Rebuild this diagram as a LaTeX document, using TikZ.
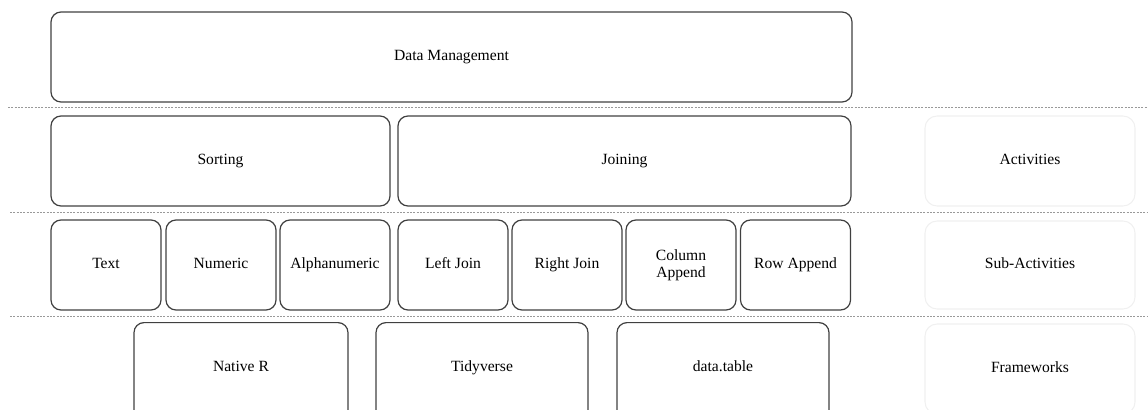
\documentclass[tikz,border=0pt]{standalone}
\usepackage{fontspec}
\setmainfont{Liberation Serif}
\begin{document}
\begin{tikzpicture}[x=0.75pt,y=-0.75pt,
  box/.style={draw=black!75,line width=0.9pt,rounded corners=7.5pt,inner sep=0pt,font=\fontsize{11.7}{12.5}\selectfont,align=center},
  one/.style={text height=0.68em,text depth=0.22em},
  side/.style={draw=black!6,line width=0.8pt,rounded corners=9pt,inner sep=0pt,font=\fontsize{11.7}{12.5}\selectfont,align=center,one},
  lab/.style={inner sep=0pt,font=\fontsize{11.7}{12.5}\selectfont,one},
  sep/.style={draw=black!40,line width=0.6pt,dash pattern=on 1.5pt off 1pt}]
\useasboundingbox (0,0) rectangle (1148,410);
\clip (0,0) rectangle (1148,410);
% rows
\node[box,one,minimum width=801*0.75pt,minimum height=90*0.75pt] (dm) at (451.5,57) {Data Management};
\node[box,one,minimum width=339*0.75pt,minimum height=90*0.75pt] (sort) at (220.5,161) {Sorting};
\node[box,one,minimum width=453*0.75pt,minimum height=90*0.75pt] (join) at (624.5,161) {Joining};
\node[side,minimum width=210*0.75pt,minimum height=90*0.75pt] (act) at (1030,161) {Activities};
% sub-activities
\foreach \n/\cx/\t in {text/106/Text, num/221/Numeric, alnum/335/Alphanumeric, lj/453/Left Join, rj/567/Right Join, ra/795.5/Row Append}
  \node[box,one,minimum width=110*0.75pt,minimum height=90*0.75pt] (\n) at (\cx,265) {\t};
\node[box,minimum width=110*0.75pt,minimum height=90*0.75pt] (ca) at (681,265) {Column\\Append};
\node[side,minimum width=210*0.75pt,minimum height=88*0.75pt] (sub) at (1030,265) {Sub-Activities};
% frameworks
\node[box,anchor=north,minimum width=214*0.75pt,minimum height=100*0.75pt] (nr) at (241,322) {};
\node[box,anchor=north,minimum width=212*0.75pt,minimum height=100*0.75pt] (tv) at (482,322) {};
\node[box,anchor=north,minimum width=212*0.75pt,minimum height=100*0.75pt] (dt) at (723,322) {};
\node[lab] (nrt) at (241,368) {Native R};
\node[lab] (tvt) at (482,368) {Tidyverse};
\node[lab] (dtt) at (723,368) {data.table};
\node[side,minimum width=210*0.75pt,minimum height=90*0.75pt] (fw) at (1030,369) {Frameworks};
% separators
\coordinate (s1a) at (8,107); \coordinate (s1b) at (1148,107);
\coordinate (s2a) at (10,212); \coordinate (s2b) at (1148,212);
\coordinate (s3a) at (10,316); \coordinate (s3b) at (1148,316);
\draw[sep] (s1a) -- (s1b);
\draw[sep] (s2a) -- (s2b);
\draw[sep] (s3a) -- (s3b);
\end{tikzpicture}
\end{document}
